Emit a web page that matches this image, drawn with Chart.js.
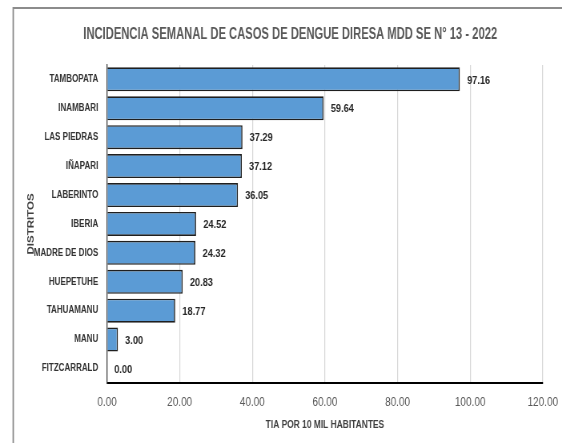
<!DOCTYPE html>
<html>
<head>
<meta charset="utf-8">
<script src="https://cdn.jsdelivr.net/npm/chart.js@4.4.1/dist/chart.umd.min.js"></script>
<style>
html,body{margin:0;padding:0;background:#fff;overflow:hidden;width:562px;height:443px;}
#wrap{width:702px;height:443px;position:absolute;left:0;top:0;transform-origin:0 0;transform:scaleX(0.8006);}
</style>
</head>
<body>
<div id="wrap"><canvas id="c" width="702" height="443"></canvas></div>
<script>
const categories = ["TAMBOPATA","INAMBARI","LAS PIEDRAS","IÑAPARI","LABERINTO","IBERIA","MADRE DE DIOS","HUEPETUHE","TAHUAMANU","MANU","FITZCARRALD"];
const values = [97.16, 59.64, 37.29, 37.12, 36.05, 24.52, 24.32, 20.83, 18.77, 3.00, 0.00];
const xTicks = [0, 20, 40, 60, 80, 100, 120];
const titleText = "INCIDENCIA SEMANAL DE CASOS DE DENGUE DIRESA MDD SE N° 13 - 2022";
const xTitle = "TIA POR 10 MIL HABITANTES";
const yTitle = "DISTRITOS";

const NARROW = "'Liberation Sans Narrow', 'Arial Narrow', 'Liberation Sans', sans-serif";

const framePlugin = {
  id: 'frame',
  beforeDraw(chart) {
    const ctx = chart.ctx;
    ctx.save();
    ctx.strokeStyle = '#8c8c8c';
    ctx.lineWidth = 1.8;
    ctx.beginPath();
    ctx.moveTo(16.5, 443);
    ctx.lineTo(16.5, 8);
    ctx.lineTo(702, 8);
    ctx.stroke();
    ctx.restore();
  }
};

const titleBoxPlugin = {
  id: 'titleBox',
  afterLayout(chart) {
    const t = chart.titleBlock;
    if (t) { t.left = 104; t.right = 621; t.width = t.right - t.left; }
  }
};

const labelPlugin = {
  id: 'valueLabels',
  afterDatasetsDraw(chart) {
    const ctx = chart.ctx;
    const meta = chart.getDatasetMeta(0);
    ctx.save();
    ctx.font = "bold 11.5px " + NARROW;
    ctx.fillStyle = '#262626';
    ctx.textAlign = 'left';
    ctx.textBaseline = 'middle';
    meta.data.forEach((bar, i) => {
      ctx.fillText(values[i].toFixed(2), bar.x + 9, bar.y + 1);
    });
    ctx.restore();
  }
};

new Chart(document.getElementById('c'), {
  type: 'bar',
  data: {
    labels: categories,
    datasets: [{
      data: values,
      backgroundColor: '#5B9BD5',
      borderColor: '#1f1f1f',
      borderWidth: 1.6,
      borderSkipped: 'start',
      barPercentage: 0.83,
      categoryPercentage: 1.0
    }]
  },
  options: {
    indexAxis: 'y',
    responsive: false,
    animation: false,
    devicePixelRatio: 1,
    layout: { padding: { left: 0, right: 24, top: 0, bottom: 0 } },
    plugins: {
      legend: { display: false },
      tooltip: { enabled: false },
      title: {
        display: true,
        text: titleText,
        color: '#595959',
        font: { family: NARROW, size: 16.5, weight: 'bold' },
        padding: { top: 24.6, bottom: 20.5 }
      }
    },
    scales: {
      x: {
        min: 0, max: 120,
        afterFit(scale) { scale.height = 60; scale.paddingLeft = 0; scale.paddingRight = 0; },
        afterBuildTicks(scale) { scale.ticks = xTicks.map(v => ({ value: v })); },
        ticks: {
          color: '#595959',
          padding: 12.5,
          font: { family: NARROW, size: 12.5 },
          callback: v => Number(v).toFixed(2)
        },
        grid: { color: '#d9d9d9', lineWidth: 1.25, drawTicks: false },
        border: { color: '#000000', width: 2 },
        title: {
          display: true,
          text: xTitle,
          color: '#404040',
          font: { family: NARROW, size: 10.5, weight: 'bold' },
          padding: { top: 0, bottom: 11.8 }
        }
      },
      y: {
        afterFit(scale) { scale.width = 133.7; scale.paddingTop = 0; scale.paddingBottom = 0; },
        ticks: {
          color: '#333333',
          padding: 11,
          font: { family: NARROW, size: 10, weight: 'bold' }
        },
        grid: { display: false, drawTicks: false },
        border: { color: '#404040', width: 1.25 },
        title: {
          display: true,
          text: yTitle,
          color: '#404040',
          font: { family: "'Liberation Sans', Arial, sans-serif", size: 11.5, weight: 'bold' },
          padding: { top: 32, bottom: 0 }
        }
      }
    }
  },
  plugins: [framePlugin, titleBoxPlugin, labelPlugin]
});
</script>
</body>
</html>
